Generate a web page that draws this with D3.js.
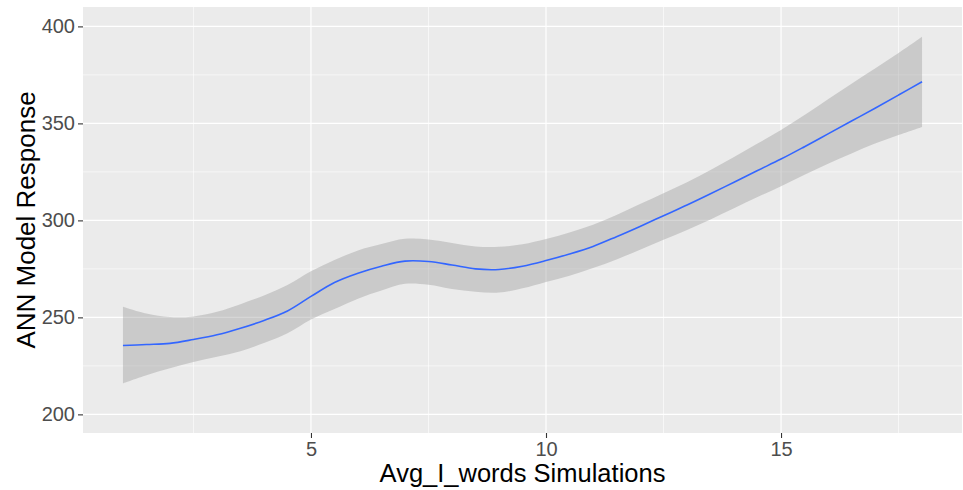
<!DOCTYPE html>
<html>
<head>
<meta charset="utf-8">
<script src="https://cdn.jsdelivr.net/npm/d3@7"></script>
<style>
  html, body { margin: 0; padding: 0; background: #fff; }
  svg { display: block; font-family: "Liberation Sans", Arial, sans-serif; }
</style>
</head>
<body>
<svg id="chart" width="963" height="490"></svg>
<script>
// ---- data ----
const xs    = [1, 1.5, 2, 2.5, 3, 3.5, 4, 4.5, 5, 5.5, 6, 6.5, 7, 7.5, 8, 8.5, 9, 9.5, 10, 10.5, 11, 11.5, 12, 12.5, 13, 13.5, 14, 14.5, 15, 15.5, 16, 16.5, 17, 17.5, 18];
const fit   = [235.5, 236.0, 236.6, 238.6, 241.0, 244.4, 248.4, 253.3, 260.8, 268.0, 272.8, 276.4, 279.0, 278.8, 277.0, 275.0, 274.7, 276.4, 279.3, 282.7, 286.6, 291.6, 296.9, 302.4, 307.9, 313.7, 319.7, 325.7, 331.6, 338.0, 344.6, 351.2, 357.8, 364.6, 371.5];
const upper = [255.5, 252.0, 250.2, 250.5, 252.9, 256.8, 261.3, 266.7, 273.8, 279.6, 284.5, 287.8, 290.5, 290.2, 288.4, 286.6, 286.4, 287.7, 290.4, 293.8, 297.8, 302.8, 308.4, 314.0, 319.6, 326.0, 332.7, 339.6, 346.6, 354.3, 362.4, 370.5, 378.3, 386.3, 394.7];
const lower = [216.0, 220.2, 223.8, 227.0, 229.7, 232.6, 236.8, 241.8, 248.9, 254.3, 259.6, 263.8, 267.3, 266.8, 264.6, 263.2, 262.8, 265.0, 268.3, 271.5, 275.4, 279.9, 284.9, 290.0, 295.1, 300.5, 306.2, 312.0, 317.6, 323.5, 329.2, 334.5, 339.6, 344.0, 348.2];
const xTicks = [5, 10, 15];
const xMinor = [2.5, 7.5, 12.5, 17.5];
const yTicks = [200, 250, 300, 350, 400];
const yMinor = [225, 275, 325, 375];
const xTitle = "Avg_I_words Simulations";
const yTitle = "ANN Model Response";

// ---- layout ----
const panel = { left: 83, top: 7, right: 962, bottom: 433 };
const svg = d3.select("#chart");

const x = d3.scaleLinear().domain([0.15, 18.85]).range([panel.left, panel.right]);
const y = d3.scaleLinear().domain([190.4, 410]).range([panel.bottom, panel.top]);

// panel background
svg.append("rect")
  .attr("x", panel.left).attr("y", panel.top)
  .attr("width", panel.right - panel.left).attr("height", panel.bottom - panel.top)
  .attr("fill", "#EBEBEB");

const grid = svg.append("g");
// minor grid
grid.selectAll(".xminor").data(xMinor).join("line")
  .attr("x1", d => x(d)).attr("x2", d => x(d))
  .attr("y1", panel.top).attr("y2", panel.bottom)
  .attr("stroke", "#fff").attr("stroke-width", 0.6);
grid.selectAll(".yminor").data(yMinor).join("line")
  .attr("y1", d => y(d)).attr("y2", d => y(d))
  .attr("x1", panel.left).attr("x2", panel.right)
  .attr("stroke", "#fff").attr("stroke-width", 0.6);
// major grid
grid.selectAll(".xmajor").data(xTicks).join("line")
  .attr("x1", d => x(d)).attr("x2", d => x(d))
  .attr("y1", panel.top).attr("y2", panel.bottom)
  .attr("stroke", "#fff").attr("stroke-width", 1.2);
grid.selectAll(".ymajor").data(yTicks).join("line")
  .attr("y1", d => y(d)).attr("y2", d => y(d))
  .attr("x1", panel.left).attr("x2", panel.right)
  .attr("stroke", "#fff").attr("stroke-width", 1.2);

// ribbon + line
const rows = xs.map((d, i) => ({ x: d, fit: fit[i], lo: lower[i], hi: upper[i] }));
const area = d3.area()
  .x(d => x(d.x)).y0(d => y(d.lo)).y1(d => y(d.hi))
  .curve(d3.curveCatmullRom.alpha(0.5));
svg.append("path").datum(rows)
  .attr("d", area)
  .attr("fill", "#999999").attr("fill-opacity", 0.4);

const line = d3.line().x(d => x(d.x)).y(d => y(d.fit)).curve(d3.curveCatmullRom.alpha(0.5));
svg.append("path").datum(rows)
  .attr("d", line)
  .attr("fill", "none").attr("stroke", "#3366FF").attr("stroke-width", 1.6);

// axes
const xAxis = svg.append("g")
  .attr("transform", `translate(0,${panel.bottom})`)
  .call(d3.axisBottom(x).tickValues(xTicks).tickSize(5).tickPadding(4).tickFormat(d3.format("d")));
const yAxis = svg.append("g")
  .attr("transform", `translate(${panel.left},0)`)
  .call(d3.axisLeft(y).tickValues(yTicks).tickSize(5).tickPadding(3).tickFormat(d3.format("d")));
[xAxis, yAxis].forEach(g => {
  g.select(".domain").remove();
  g.selectAll(".tick line").attr("stroke", "#333333").attr("stroke-width", 1.1);
  g.selectAll(".tick text").attr("fill", "#4D4D4D").style("font-size", "20px")
    .style("font-family", "'Liberation Sans', Arial, sans-serif");
});

// titles
svg.append("text")
  .attr("x", (panel.left + panel.right) / 2).attr("y", 482)
  .attr("text-anchor", "middle").attr("fill", "#000")
  .style("font-size", "25.5px")
  .text(xTitle);
svg.append("text")
  .attr("transform", `translate(35,${(panel.top + panel.bottom) / 2}) rotate(-90)`)
  .attr("text-anchor", "middle").attr("fill", "#000")
  .style("font-size", "26px")
  .text(yTitle);
</script>
</body>
</html>
